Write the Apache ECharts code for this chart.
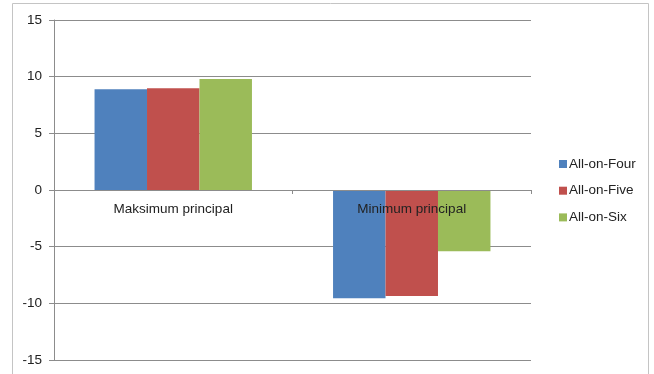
<!DOCTYPE html>
<html>
<head>
<meta charset="utf-8">
<script src="https://cdn.jsdelivr.net/npm/echarts@6/dist/echarts.min.js"></script>
<style>html,body{margin:0;padding:0;background:#fff;}#c{width:654px;height:374px;}</style>
</head>
<body>
<div id="c"></div>
<script>
const categories = ['Maksimum principal', 'Minimum principal'];
const seriesNames = ['All-on-Four', 'All-on-Five', 'All-on-Six'];
const allOnFour = [8.88, -9.56];
const allOnFive = [8.97, -9.35];
const allOnSix = [9.79, -5.41];
const colors = ['#4F81BD', '#C0504D', '#9BBB59'];
const seriesValues = [allOnFour, allOnFive, allOnSix];

const chart = echarts.init(document.getElementById('c'));
const font = 'Liberation Sans, Arial, sans-serif';
chart.setOption({
  animation: false,
  textStyle: { fontFamily: font },
  graphic: [{
    type: 'rect', left: 12, top: 3, z: -10, silent: true,
    shape: { width: 636, height: 390 },
    style: { fill: '#fff', stroke: '#c4c4c4', lineWidth: 1 }
  }],
  grid: { left: 54, right: 123, top: 20, bottom: 14, containLabel: false, outerBoundsMode: 'none' },
  legend: {
    orient: 'vertical', left: 554, top: 152,
    itemWidth: 8, itemHeight: 8, itemGap: 12.7,
    icon: 'rect',
    data: seriesNames,
    textStyle: { fontSize: 13.5, color: '#222', fontFamily: font, lineHeight: 14, padding: [0, 0, 0, -3] }
  },
  xAxis: {
    type: 'category', data: categories, z: 10,
    position: 'bottom', offset: -170,
    axisLine: { onZero: false, lineStyle: { color: '#8c8c8c', width: 1 } },
    axisTick: { show: true, length: 4, lineStyle: { color: '#8c8c8c' } },
    axisLabel: { fontSize: 13.5, color: '#222', margin: 12, fontFamily: font },
    splitLine: { show: false }
  },
  yAxis: {
    type: 'value', min: -15, max: 15, interval: 5,
    axisLine: { show: true, lineStyle: { color: '#8c8c8c', width: 1 } },
    axisTick: { show: true, length: 5, lineStyle: { color: '#8c8c8c' } },
    axisLabel: { fontSize: 13.5, color: '#222', margin: 12, fontFamily: font },
    splitLine: { show: true, lineStyle: { color: '#8c8c8c', width: 1 } }
  },
  series: seriesNames.map((n, i) => ({
    name: n, type: 'bar', data: seriesValues[i],
    barGap: '0%', barCategoryGap: '34%',
    itemStyle: { color: colors[i] }
  }))
});
</script>
</body>
</html>
